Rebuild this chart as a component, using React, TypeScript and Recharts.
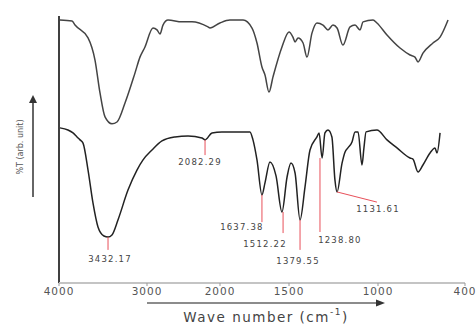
import { LineChart, Line, XAxis, YAxis, ReferenceLine, ReferenceDot } from 'recharts'

// the wavenumber axis is drawn in unequal segments (like the instrument printout)
const axisWavenumbers = [4000, 3000, 2000, 1500, 1000, 400]
const axisStops = [0, 88, 161, 230, 319, 406]

// [wavenumber cm-1, %T arb. unit]
const upperSpectrum = [
  [3990, 98.5], [3852, 98.1], [3818, 96.6], [3670, 91.8], [3591, 83.5], [3534, 71.2],
  [3477, 62.2], [3398, 59.6], [3341, 60.3], [3250, 67.4], [3136, 78.7], [3080, 84.6],
  [3023, 88.4], [2918, 95.5], [2863, 94.8], [2822, 93.3], [2781, 96.6], [2712, 98.5],
  [2521, 97.8], [2384, 97.8], [2164, 95.9], [2137, 95.5], [2000, 97.4], [1928, 98.5],
  [1833, 98.5], [1768, 95.5], [1732, 89.9], [1696, 80.9], [1674, 77.9], [1645, 71.5],
  [1616, 77.2], [1551, 88.4], [1500, 94.0], [1478, 92.1], [1466, 90.3], [1449, 91.8],
  [1421, 89.9], [1399, 84.6], [1371, 93.6], [1343, 97.4], [1309, 96.6], [1281, 94.8],
  [1253, 96.6], [1230, 95.5], [1197, 89.1], [1157, 95.9], [1129, 96.6], [1101, 94.8],
  [1084, 97.8], [1028, 98.5], [1006, 97.4], [938, 92.9], [848, 88.0], [779, 85.4],
  [745, 84.6], [724, 82.8], [690, 86.1], [621, 89.9], [572, 92.1], [517, 98.5],
]

const lowerSpectrum = [
  [3989, 58.1], [3898, 57.3], [3841, 56.2], [3795, 54.7], [3761, 53.6], [3727, 52.4],
  [3670, 42.3], [3614, 30.0], [3557, 21.0], [3489, 17.6], [3443, 17.2], [3398, 18.0],
  [3330, 23.6], [3216, 34.8], [3114, 42.3], [3045, 46.1], [2932, 49.8], [2795, 53.2],
  [2616, 54.7], [2438, 55.1], [2247, 54.3], [2205, 53.6], [2110, 56.2], [1986, 56.6],
  [1783, 56.6], [1761, 53.6], [1732, 46.1], [1696, 33.0], [1674, 37.5], [1638, 45.3],
  [1594, 40.1], [1551, 26.6], [1514, 39.7], [1489, 44.9], [1466, 41.2], [1438, 23.6],
  [1410, 36.0], [1382, 49.8], [1343, 54.7], [1331, 56.2], [1314, 46.8], [1298, 56.2],
  [1281, 57.3], [1259, 54.7], [1242, 38.6], [1230, 34.1], [1202, 44.9], [1185, 49.1],
  [1169, 50.6], [1146, 52.8], [1129, 56.6], [1112, 56.6], [1090, 44.2], [1079, 50.6],
  [1067, 56.6], [1006, 57.3], [938, 53.6], [869, 50.6], [779, 46.8], [759, 46.4],
  [724, 41.6], [690, 44.2], [641, 48.7], [607, 50.6], [593, 48.7], [572, 56.2],
]

const peakLabels = ['3432.17', '2082.29', '1637.38', '1512.22', '1379.55', '1238.80', '1131.61']
const peakFrom = [[3443, 17.2], [2205, 53.6], [1696, 33.0], [1543, 26.6], [1438, 23.6], [1326, 46.8], [1230, 34.1]]
const peakTo = [[3443, 12.4], [2205, 47.9], [1696, 22.8], [1543, 18.7], [1438, 12.4], [1326, 19.1], [1006, 30.3]]
const labelAt = [[3420, 9.0], [2274, 45.3], [1841, 21.0], [1674, 14.6], [1449, 8.2], [1214, 16.1], [1000, 27.7]]

const toPos = (wn: number) => {
  for (let i = 0; i < axisWavenumbers.length - 1; i++) {
    const a = axisWavenumbers[i]
    const b = axisWavenumbers[i + 1]
    if (wn <= a && wn >= b) {
      return axisStops[i] + ((a - wn) / (a - b)) * (axisStops[i + 1] - axisStops[i])
    }
  }
  return wn > axisWavenumbers[0] ? 0 : axisStops[axisStops.length - 1]
}

const toRows = (s: number[][]) => s.map(([wn, t]) => ({ pos: toPos(wn), t }))
const upperData = toRows(upperSpectrum)
const lowerData = toRows(lowerSpectrum)

const tickLabel = (v: number) => {
  const i = axisStops.indexOf(v)
  return i >= 0 ? String(axisWavenumbers[i]) : ''
}

const font = '"DejaVu Sans", sans-serif'

export default function App() {
  return (
    <div style={{ position: 'absolute', left: 0, top: 0, width: 476, height: 324, background: '#fff' }}>
      <LineChart width={476} height={324} data={upperData} margin={{ top: 16, right: 11, left: 59, bottom: 11 }}>
        <XAxis
          type="number"
          dataKey="pos"
          domain={[0, 406]}
          ticks={axisStops}
          tickFormatter={tickLabel}
          height={30}
          axisLine={{ stroke: '#c4c4c4', strokeWidth: 2 }}
          tickLine={{ stroke: '#999' }}
          tickSize={3}
          tick={{ fill: '#555', fontSize: 10.5, fontFamily: font, letterSpacing: 1 }}
        />
        <YAxis type="number" domain={[0, 100]} hide />
        <ReferenceLine x={0} stroke="#000" strokeWidth={1.5} ifOverflow="visible" />
        <Line type="monotone" data={upperData} dataKey="t" stroke="#444" strokeWidth={1.5} dot={false} isAnimationActive={false} />
        <Line type="monotone" data={lowerData} dataKey="t" stroke="#222" strokeWidth={1.5} dot={false} isAnimationActive={false} />
        {peakLabels.map((lbl, i) => (
          <ReferenceLine
            key={'l' + lbl}
            segment={[
              { x: toPos(peakFrom[i][0]), y: peakFrom[i][1] },
              { x: toPos(peakTo[i][0]), y: peakTo[i][1] },
            ]}
            stroke="#e8505a"
            strokeWidth={1}
          />
        ))}
        {peakLabels.map((lbl, i) => (
          <ReferenceDot
            key={'d' + lbl}
            x={toPos(labelAt[i][0])}
            y={labelAt[i][1]}
            r={0}
            shape={(p: any) => (
              <text
                x={p.cx}
                y={p.cy}
                textAnchor="middle"
                dominantBaseline="central"
                fontSize={8.5}
                letterSpacing={1.2}
                fontFamily={font}
                fill="#444"
              >
                {lbl}
              </text>
            )}
          />
        ))}
      </LineChart>
      <svg width={476} height={324} style={{ position: 'absolute', left: 0, top: 0, pointerEvents: 'none' }}>
        <line x1={33} y1={197} x2={33} y2={102} stroke="#666" strokeWidth={2} />
        <polygon points="33,95 29,103 37,103" fill="#333" />
        <text
          x={20}
          y={147}
          transform="rotate(-90 20 147)"
          textAnchor="middle"
          dominantBaseline="central"
          fontSize={8}
          fontFamily={font}
          fill="#555"
        >
          %T (arb. unit)
        </text>
        <line x1={147} y1={303} x2={377} y2={303} stroke="#666" strokeWidth={1.5} />
        <polygon points="385,303 376,299.5 376,306.5" fill="#333" />
        <text
          x={266}
          y={317}
          textAnchor="middle"
          dominantBaseline="central"
          fontSize={13.5}
          letterSpacing={1.5}
          fontFamily={font}
          fill="#444"
        >
          Wave number (cm<tspan baselineShift="super" fontSize={9}>-1</tspan>)
        </text>
      </svg>
    </div>
  )
}
